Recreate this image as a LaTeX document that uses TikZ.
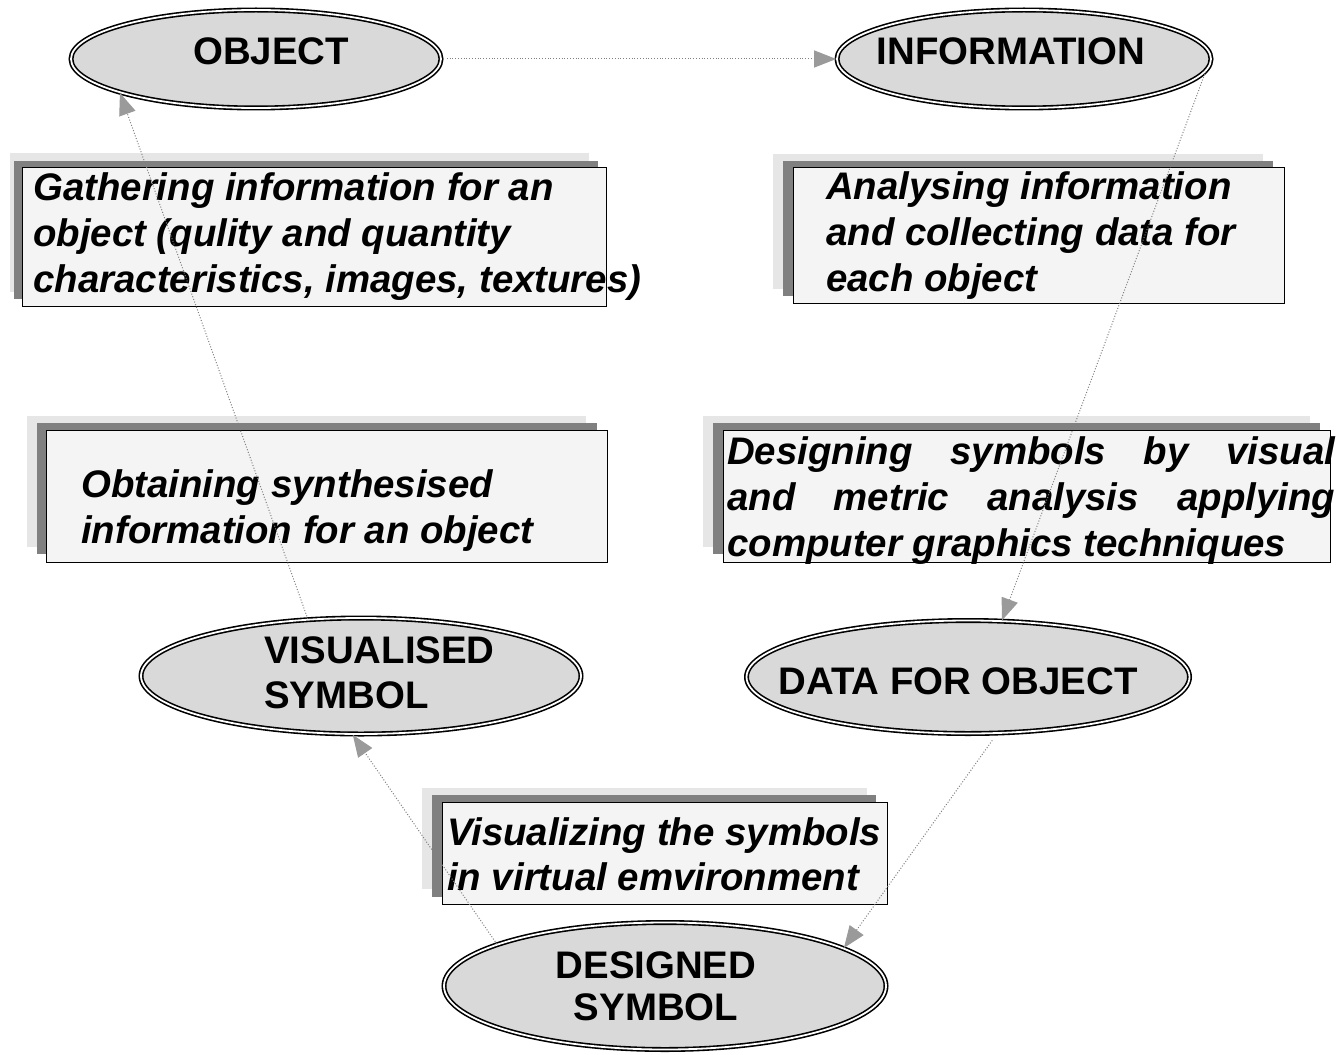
\documentclass[tikz,border=0pt]{standalone}
\usepackage{fontspec}
\setmainfont{Liberation Sans}
\usetikzlibrary{arrows.meta,shapes.geometric}
\definecolor{ellfill}{HTML}{D9D9D9}
\definecolor{boxfill}{HTML}{F4F4F4}
\definecolor{shdark}{HTML}{808080}
\definecolor{shlight}{HTML}{E6E6E6}
\definecolor{arrgray}{HTML}{9A9A9A}
\definecolor{linegray}{HTML}{808080}
\newcommand\stk[2]{\vtop{\baselineskip=#1\lineskiplimit=-100pt\lineskip=0pt #2}}
\begin{document}
\begin{tikzpicture}[x=1pt,y=-1pt,
  ell/.style={ellipse, draw=black, fill=ellfill, double=white, double distance=1.8pt, line width=1.6pt, inner sep=0pt},
  fbox/.style={rectangle, draw=black, line width=1.4pt, fill=boxfill, inner sep=0pt, anchor=north west},
  eltext/.style={font=\fontsize{38.4}{45}\selectfont\bfseries, inner sep=0pt},
  bxtext/.style={font=\fontsize{38.4}{46}\selectfont\bfseries\itshape, inner sep=0pt, anchor=base west},
  conn/.style={draw=linegray, line width=1pt, dash pattern=on 1pt off 1.8pt,
    -{Triangle[length=22pt,width=17pt,fill=arrgray,color=arrgray]}}
]
\useasboundingbox (0,0) rectangle (1337,1054);

% ---- boxes with shadows ----
\fill[shlight] (10,153) rectangle (589,292);
\fill[shdark] (14,161) rectangle (598,299);
\node[fbox, minimum width=584pt, minimum height=139pt] (b1) at (22,167) {};

\fill[shlight] (773,154) rectangle (1263,289);
\fill[shdark] (783,161) rectangle (1273,296);
\node[fbox, minimum width=491pt, minimum height=136pt] (b2) at (793,167) {};

\fill[shlight] (27,416) rectangle (586,547);
\fill[shdark] (37,423) rectangle (597,554);
\node[fbox, minimum width=561pt, minimum height=132pt] (b3) at (46,430) {};

\fill[shlight] (703,416) rectangle (1310,547);
\fill[shdark] (713,423) rectangle (1320,554);
\node[fbox, minimum width=607pt, minimum height=132pt] (b4) at (723,430) {};

\fill[shlight] (422,788) rectangle (867,889);
\fill[shdark] (432,795) rectangle (876,897);
\node[fbox, minimum width=445pt, minimum height=102pt] (b5) at (442,802) {};

% ---- box texts ----
\node[bxtext] (b1T) at (33,200) {\stk{46pt}{\hbox{Gathering information for an}\hbox{object (qulity and quantity}\hbox{characteristics, images, textures)}}};
\node[bxtext] (b2T) at (826,199) {\stk{46pt}{\hbox{Analysing information}\hbox{and collecting data for}\hbox{each object}}};
\node[bxtext] (b3T) at (81,497) {\stk{46pt}{\hbox{Obtaining synthesised}\hbox{information for an object}}};
\node[bxtext] (b4T) at (727,464) {\stk{46pt}{\hbox to 608pt{Designing\hfil symbols\hfil by\hfil visual}\hbox to 608pt{and\hfil metric\hfil analysis\hfil applying}\hbox{computer graphics techniques}}};
\node[bxtext] (b5T) at (447,845) {\stk{45pt}{\hbox{Visualizing the symbols}\hbox{in virtual emvironment}}};

% ---- ellipses ----
\node[ell, minimum width=370pt, minimum height=98pt] (obj) at (256,59) {};
\node[ell, minimum width=374pt, minimum height=98pt] (info) at (1024,59) {};
\node[ell, minimum width=440pt, minimum height=116pt] (vis) at (361,676) {};
\node[ell, minimum width=443pt, minimum height=113pt] (data) at (968,677) {};
\node[ell, minimum width=442pt, minimum height=127pt] (des) at (665,986) {};

\node[eltext, anchor=base] (objT) at (271,65) {OBJECT};
\node[eltext, anchor=base] (infoT) at (1011,65) {INFORMATION};
\node[eltext, anchor=base west] (visT) at (264,663) {\stk{45pt}{\hbox{VISUALISED}\hbox{SYMBOL}}};
\node[eltext, anchor=base] (dataT) at (958,694) {DATA FOR OBJECT};
\node[eltext, anchor=base] (desT) at (656,978) {\stk{42pt}{\halign{\hfil#\hfil\cr DESIGNED\cr SYMBOL\cr}}};

% ---- connectors ----
\draw[conn, shorten <=5pt] (obj.east) -- (info.west);
\draw[conn] (info.-4) -- (data.59);
\draw[conn, shorten <=8pt] (data.-63) -- (des.12);
\draw[conn] (des.166) -- (vis.-98);
\draw[conn] (vis.133) -- (obj.-166);
\end{tikzpicture}
\end{document}
